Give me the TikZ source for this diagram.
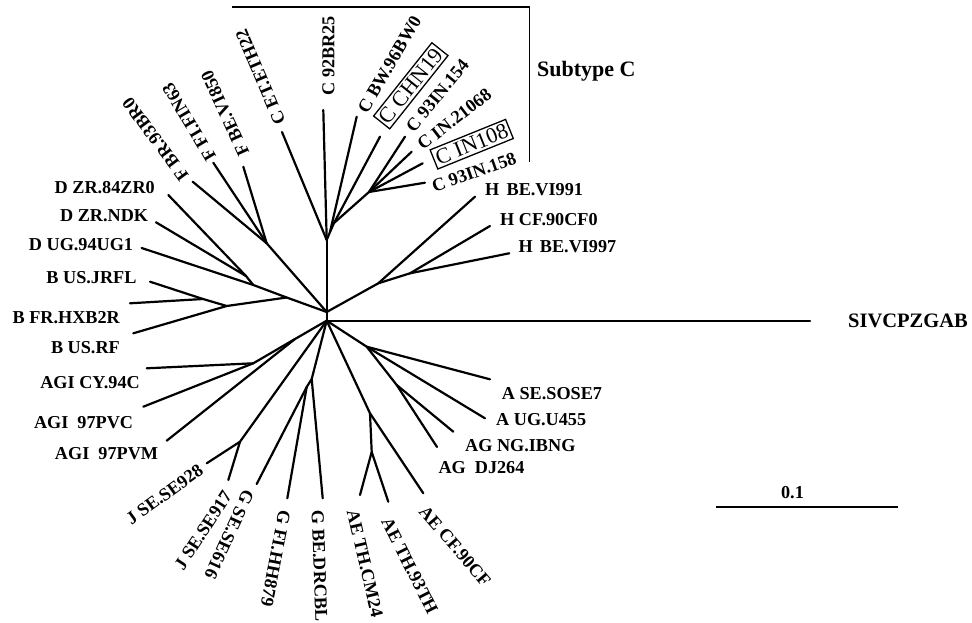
\documentclass[tikz,border=0pt]{standalone}
\usepackage{fontspec}
\setmainfont{Liberation Serif}
\begin{document}
\begin{tikzpicture}[x=1pt,y=-1pt,
  branch/.style={line width=2.2pt, line cap=round, line join=round},
  lab/.style={font=\fontsize{18.2}{20}\selectfont\bfseries, inner sep=0pt, text height=12.2pt, text depth=0pt},
  boxlab/.style={font=\fontsize{22}{24}\selectfont, draw, line width=1.3pt, inner xsep=2.5pt, inner ysep=3pt, text height=14.6pt, text depth=0pt},
]
\useasboundingbox (0,0) rectangle (972,623);

% ---- internal nodes ----
\coordinate (ctr) at (326.7,320.7);
\coordinate (n1) at (326.7,312);
\coordinate (cA) at (326.7,240);
\coordinate (cB) at (330,232);
\coordinate (cC) at (334,223);
\coordinate (cD) at (369,192);
\coordinate (h1) at (378.3,283.3);
\coordinate (h2) at (410,273.3);
\coordinate (f1) at (266.7,243.3);
\coordinate (bd) at (286.7,297.5);
\coordinate (d2) at (253.3,285);
\coordinate (d1) at (246,276);
\coordinate (b2) at (226.7,306);
\coordinate (b1) at (203,299);
\coordinate (ag2) at (295,339);
\coordinate (agi) at (253.3,363.3);
\coordinate (jn) at (240,441.7);
\coordinate (gb) at (311.7,379);
\coordinate (ga) at (306.7,387);
\coordinate (a1) at (366.7,346.7);
\coordinate (ag) at (396.7,385);
\coordinate (ae) at (370,413.3);
\coordinate (aeth) at (371.7,452);

% ---- leaf ends ----
\coordinate (lC92) at (323.3,110);
\coordinate (lETH) at (282,132);
\coordinate (lBW) at (356.7,116.7);
\coordinate (lCHN) at (380,136.7);
\coordinate (l154) at (405,136.7);
\coordinate (l21068) at (411.7,151.7);
\coordinate (lIN108) at (422.7,163.3);
\coordinate (l158) at (425,182.7);
\coordinate (lH991) at (475,196.7);
\coordinate (lHCF) at (490,226);
\coordinate (lH997) at (509.3,253.3);
\coordinate (lFBR) at (192.7,181.7);
\coordinate (lFFI) at (213.3,162.7);
\coordinate (lFBE) at (243.3,166.7);
\coordinate (lD84) at (168.3,195);
\coordinate (lDNDK) at (156,222.3);
\coordinate (lDUG) at (141.7,248);
\coordinate (lBJR) at (150,281.7);
\coordinate (lBHX) at (130,303.3);
\coordinate (lBRF) at (133.3,333.3);
\coordinate (lAGCY) at (146.7,368.3);
\coordinate (lAGPVC) at (143.3,406.7);
\coordinate (lAGPVM) at (166.7,440.7);
\coordinate (lJ928) at (206.7,463.3);
\coordinate (lJ917) at (228.3,480);
\coordinate (lG616) at (256.7,484);
\coordinate (lG879) at (287.3,498.3);
\coordinate (lGDR) at (322.7,498.3);
\coordinate (lAECM) at (360,495);
\coordinate (lAE93) at (388.3,501.7);
\coordinate (lAECF) at (423.3,493.3);
\coordinate (lAGDJ) at (437,447);
\coordinate (lAGNG) at (453.3,431.7);
\coordinate (lAUG) at (485,418.3);
\coordinate (lASO) at (490,379.3);
\coordinate (lSIV) at (810,320.7);

% ---- branches ----
\draw[branch] (ctr) -- (n1) -- (cA);
\draw[branch] (cA) -- (lC92);
\draw[branch] (cA) -- (lETH);
\draw[branch] (cA) -- (cB) -- (cC) -- (cD);
\draw[branch] (cB) -- (lBW);
\draw[branch] (cC) -- (lCHN);
\draw[branch] (cD) -- (l154);
\draw[branch] (cD) -- (l21068);
\draw[branch] (cD) -- (lIN108);
\draw[branch] (cD) -- (l158);
\draw[branch] (n1) -- (h1) -- (lH991);
\draw[branch] (h1) -- (h2) -- (lHCF);
\draw[branch] (h2) -- (lH997);
\draw[branch] (n1) -- (f1);
\draw[branch] (f1) -- (lFBR);
\draw[branch] (f1) -- (lFFI);
\draw[branch] (f1) -- (lFBE);
\draw[branch] (n1) -- (bd) -- (d2) -- (d1) -- (lD84);
\draw[branch] (d1) -- (lDNDK);
\draw[branch] (d2) -- (lDUG);
\draw[branch] (bd) -- (b2) -- (b1) -- (lBJR);
\draw[branch] (b1) -- (lBHX);
\draw[branch] (b2) -- (lBRF);
\draw[branch] (ctr) -- (ag2) -- (agi) -- (lAGCY);
\draw[branch] (agi) -- (lAGPVC);
\draw[branch] (ag2) -- (lAGPVM);
\draw[branch] (ctr) -- (jn) -- (lJ928);
\draw[branch] (jn) -- (lJ917);
\draw[branch] (ctr) -- (gb) -- (ga) -- (lG616);
\draw[branch] (ga) -- (lG879);
\draw[branch] (gb) -- (lGDR);
\draw[branch] (ctr) -- (ae) -- (lAECF);
\draw[branch] (ae) -- (aeth) -- (lAECM);
\draw[branch] (aeth) -- (lAE93);
\draw[branch] (ctr) -- (a1) -- (lASO);
\draw[branch] (a1) -- (lAUG);
\draw[branch] (a1) -- (ag) -- (lAGNG);
\draw[branch] (ag) -- (lAGDJ);
\draw[branch] (ctr) -- (lSIV);

% ---- left-hand labels ----
\node[lab, anchor=east] (tD84) at (155,187) {D ZR.84ZR0};
\node[lab, anchor=east] (tDNDK) at (148.3,215) {D ZR.NDK};
\node[lab, anchor=east] (tDUG) at (133.3,244) {D UG.94UG1};
\node[lab, anchor=east] (tBJR) at (136.7,277) {B US.JRFL};
\node[lab, anchor=east] (tBHX) at (120,317) {B FR.HXB2R};
\node[lab, anchor=east] (tBRF) at (120,347) {B US.RF};
\node[lab, anchor=east] (tAGCY) at (140,382) {AGI CY.94C};
\node[lab, anchor=east] (tAGPVC) at (133.3,422) {AGI\hspace{0.5em}97PVC};
\node[lab, anchor=east] (tAGPVM) at (158.3,453) {AGI\hspace{0.5em}97PVM};

% ---- right-hand labels ----
\node[lab, anchor=west] (tH991) at (485,189) {H\hspace{0.4em}BE.VI991};
\node[lab, anchor=west] (tHCF) at (500,219) {H CF.90CF0};
\node[lab, anchor=west] (tH997) at (518.3,246) {H\hspace{0.4em}BE.VI997};
\node[lab, anchor=west] (tASO) at (501.7,393) {A SE.SOSE7};
\node[lab, anchor=west] (tAUG) at (496,419) {A UG.U455};
\node[lab, anchor=west] (tAGNG) at (465,445) {AG NG.IBNG};
\node[lab, anchor=west] (tAGDJ) at (438.3,467) {AG\hspace{0.5em}DJ264};
\node[lab, anchor=west, font=\fontsize{20.5}{22}\selectfont\bfseries, text height=13.8pt] (tSIV) at (848,321) {SIVCPZGAB};

% ---- radial labels, top ----
\node[lab, anchor=west, rotate=126.6] (tFBR) at (184.6,178.8) {F BR.93BR0};
\node[lab, anchor=west, rotate=120.6] (tFFI) at (211.4,160.2) {F FI.FIN63};
\node[lab, anchor=west, rotate=114.7] (tFBE) at (244.2,155.5) {F BE.VI850};
\node[lab, anchor=west, rotate=113] (tETH) at (280.3,124) {C ET.ETH22};
\node[lab, anchor=west, rotate=90] (tC92) at (328.3,95.5) {C 92BR25};
\node[lab, anchor=west, rotate=59.8] (tBW) at (362,111.2) {C BW.96BW0};
\node[boxlab, rotate=51.5] (tCHN) at (410.8,85.8) {C CHN19};
\node[lab, anchor=west, rotate=50.6] (t154) at (409.2,129.6) {C 93IN.154};
\node[lab, anchor=west, rotate=37.7] (t21068) at (419.3,146.2) {C IN.21068};
\node[boxlab, rotate=22] (tIN108) at (471.7,144.2) {C IN108};
\node[lab, anchor=west, rotate=19.5] (t158) at (432.3,187) {C 93IN.158};

% ---- radial labels, bottom ----
\node[lab, anchor=east, rotate=36] (tJ928) at (201,468) {J SE.SE928};
\node[lab, anchor=east, rotate=56.9] (tJ917) at (227.7,492.5) {J SE.SE917};
\node[lab, anchor=west, rotate=-114.6] (tG616) at (249.2,491.2) {G SE.SE616};
\node[lab, anchor=west, rotate=-100.9] (tG879) at (285,510.6) {G FI.HH879};
\node[lab, anchor=west, rotate=-88] (tGDR) at (317.8,510) {G BE.DRCBL};
\node[lab, anchor=west, rotate=-76.8] (tAECM) at (352.6,510.2) {AE TH.CM24};
\node[lab, anchor=west, rotate=-63.4] (tAE93) at (386.3,518.6) {AE TH.93TH};
\node[lab, anchor=west, rotate=-49.3] (tAECF) at (422.6,508) {AE CF.90CF};

% ---- subtype C bracket ----
\coordinate (brA) at (232,7.3);
\coordinate (brB) at (529.5,7.3);
\coordinate (brC) at (529.5,162);
\draw[line width=1.6pt] (brA) -- (brB) -- (brC);
\node[font=\fontsize{22}{24}\selectfont\bfseries, inner sep=0pt, text height=15pt, text depth=0pt, anchor=west] (tSub) at (537,69.5) {Subtype C};

% ---- scale bar ----
\coordinate (sbL) at (716,506.7);
\coordinate (sbR) at (898.3,506.7);
\draw[line width=2pt] (sbL) -- (sbR);
\node[lab] (tScale) at (792.5,492) {0.1};
\end{tikzpicture}
\end{document}
